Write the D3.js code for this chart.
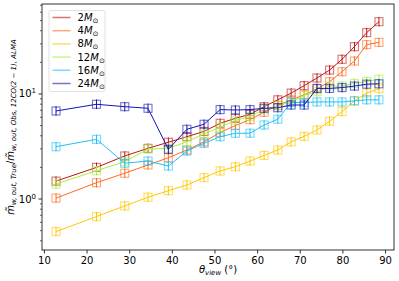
<!DOCTYPE html>
<html><head><meta charset="utf-8">
<script src="https://cdn.jsdelivr.net/npm/d3@7"></script>
<style>body{margin:0;background:#fff}svg{display:block;font-family:"DejaVu Sans",sans-serif}</style>
</head><body><svg id="c" width="399" height="281"></svg>
<script>
const theta = [12.84, 22.33, 28.96, 34.41, 39.19, 43.53, 47.55, 51.32, 54.90, 58.33, 61.64, 64.85, 67.98, 71.03, 74.04, 77.00, 79.92, 82.82, 85.70, 88.57];
const m2  = [1.48, 2.0, 2.57, 3.04, 3.47, 3.92, 4.4, 5.26, 5.87, 6.4, 7.57, 8.8, 10.2, 12.0, 14.2, 16.9, 21.4, 28.2, 38.4, 48.8];
const m4  = [1.02, 1.43, 1.76, 2.11, 2.47, 2.93, 3.5, 4.3, 5.0, 5.7, 6.7, 7.8, 8.8, 9.8, 11.2, 13.1, 16.3, 20.6, 29.5, 31.0];
const m8  = [0.49, 0.68, 0.86, 1.04, 1.2, 1.36, 1.6, 1.85, 2.03, 2.3, 2.6, 2.93, 3.5, 3.95, 4.54, 5.5, 6.8, 8.6, 10.2, 11.2];
const m12 = [1.39, 1.86, 2.27, 2.99, 3.04, 3.51, 4.16, 4.85, 5.6, 6.1, 7.15, 7.7, 8.4, 9.7, 10.5, 11.9, 11.9, 12.6, 13.2, 13.8];
const m16 = [3.15, 3.7, 2.19, 2.3, 2.06, 2.86, 3.39, 3.92, 4.23, 4.23, 5.07, 5.75, 8.3, 8.3, 8.4, 8.4, 8.4, 8.6, 8.8, 8.8];
const m24 = [6.89, 7.98, 7.57, 7.31, 2.97, 4.61, 5.15, 7.1, 7.04, 7.1, 7.3, 7.4, 7.85, 7.85, 11.3, 11.3, 11.5, 11.9, 12.4, 12.5];
const seriesNames = ["2", "4", "8", "12", "16", "24"];
const seriesValues = [m2, m4, m8, m12, m16, m24];
const colors = ["#c01515", "#ff6a1f", "#ffc800", "#a6f03c", "#22c0f5", "#1515b5"];
const errFrac = 0.11;
const xTicks = [10, 20, 30, 40, 50, 60, 70, 80, 90];

const svg = d3.select("#c");
const L = 42, R = 394, T = 4, B = 250;
const x = d3.scaleLinear().domain([9.55, 92.1]).range([L, R]);
const y = d3.scaleLog().domain([0.327, 71.9]).range([B, T]);

const g = svg.append("g");
// series
seriesValues.forEach((vals, i) => {
  const c = colors[i];
  const sg = g.append("g");
  sg.append("path").datum(vals)
    .attr("fill", "none").attr("stroke", c).attr("stroke-width", 1)
    .attr("d", d3.line().x((d, j) => x(theta[j])).y(d => y(d)));
  vals.forEach((v, j) => {
    sg.append("line").attr("x1", x(theta[j])).attr("x2", x(theta[j]))
      .attr("y1", y(v * (1 + errFrac))).attr("y2", y(v / (1 + errFrac)))
      .attr("stroke", c).attr("stroke-width", 1);
    sg.append("rect").attr("x", x(theta[j]) - 4).attr("y", y(v) - 4)
      .attr("width", 8).attr("height", 8)
      .attr("fill", "none").attr("stroke", c).attr("stroke-width", 1.1).attr("stroke-opacity", 0.6);
  });
});

// frame
svg.append("rect").attr("x", L).attr("y", T).attr("width", R - L).attr("height", B - T)
  .attr("fill", "none").attr("stroke", "#000").attr("stroke-width", 0.8);

// x axis
const xa = svg.append("g").attr("transform", `translate(0,${B})`)
  .call(d3.axisBottom(x).tickValues(xTicks).tickSize(3.5).tickPadding(3).tickFormat(d3.format("d")));
xa.select(".domain").remove();
xa.selectAll("text").attr("font-size", 10).attr("font-family", "DejaVu Sans").attr("fill", "#000");
xa.selectAll("line").attr("stroke-width", 0.8);

// y axis
const major = [1, 10];
const minor = [];
[0.1, 1, 10].forEach(dec => { for (let k = 2; k <= 9; k++) { const v = k * dec; if (v > 0.327 && v < 71.9) minor.push(v); } });
const ya = svg.append("g").attr("transform", `translate(${L},0)`);
minor.forEach(v => ya.append("line").attr("x1", -2).attr("x2", 0).attr("y1", y(v)).attr("y2", y(v)).attr("stroke", "#000").attr("stroke-width", 0.6));
major.forEach((v, i) => {
  ya.append("line").attr("x1", -3.5).attr("x2", 0).attr("y1", y(v)).attr("y2", y(v)).attr("stroke", "#000").attr("stroke-width", 0.8);
  const t = ya.append("text").attr("x", -6).attr("y", y(v) + 3.5).attr("text-anchor", "end").attr("font-size", 10);
  t.append("tspan").text("10");
  t.append("tspan").attr("font-size", 7).attr("dy", -4).text(i === 0 ? "0" : "1");
});

// x label
const xl = svg.append("text").attr("x", (L + R) / 2).attr("y", 273).attr("text-anchor", "middle").attr("font-size", 10);
xl.append("tspan").attr("font-style", "italic").text("θ");
xl.append("tspan").attr("font-style", "italic").attr("font-size", 7).attr("dy", 2).text("view");
xl.append("tspan").attr("dy", -2).text(" (°)");

// y label
const yl = svg.append("text").attr("transform", `translate(14,${(T + B) / 2}) rotate(-90)`)
  .attr("text-anchor", "middle").attr("font-size", 10);
yl.append("tspan").attr("font-style", "italic").text("m\u0303");
yl.append("tspan").attr("font-style", "italic").attr("font-size", 7).attr("dy", 2).text("w, out, True");
yl.append("tspan").attr("dy", -2).text("/");
yl.append("tspan").attr("font-style", "italic").text("m\u0303");
yl.append("tspan").attr("font-style", "italic").attr("font-size", 7).attr("dy", 2).text("w, out, Obs, 12CO(2 \u2212 1), ALMA");

// legend
const lg = svg.append("g");
lg.append("rect").attr("x", 49).attr("y", 10.5).attr("width", 56).attr("height", 81).attr("rx", 2)
  .attr("fill", "#fff").attr("fill-opacity", 0.8).attr("stroke", "#d9d9d9").attr("stroke-width", 0.8);
seriesNames.forEach((n, i) => {
  const yy = 17.5 + i * 13.2;
  lg.append("line").attr("x1", 52.5).attr("x2", 70.5).attr("y1", yy).attr("y2", yy)
    .attr("stroke", colors[i]).attr("stroke-width", 1.5).attr("stroke-opacity", 0.6);
  const t = lg.append("text").attr("x", 77.5).attr("y", yy + 3.5).attr("font-size", 10);
  t.append("tspan").text(n);
  t.append("tspan").attr("font-style", "italic").text("M");
  t.append("tspan").attr("font-size", 7).attr("dy", 2).text("⊙");
});
</script></body></html>
